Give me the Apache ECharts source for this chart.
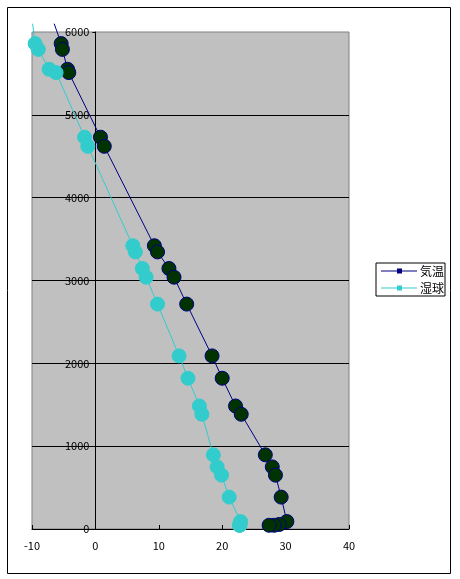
<!DOCTYPE html>
<html>
<head>
<meta charset="utf-8">
<script src="https://cdn.jsdelivr.net/npm/echarts@6/dist/echarts.min.js"></script>
<style>
  html, body { margin: 0; padding: 0; background: #fff; }
  #chart { width: 460px; height: 579px; }
</style>
</head>
<body>
<div id="chart"></div>
<script>
// 高度 (m) — 気温・湿球 共通
var heights = [6100, 5860, 5790, 5550, 5510, 4730, 4620, 3420, 3345, 3145, 3040, 2715,
  2090, 1820, 1485, 1385, 895, 750, 650, 385, 90, 55, 45, 45]
// 気温 (℃)
var airTemp = [-6.5, -5.4, -5.2, -4.4, -4.2, 0.8, 1.4, 9.3, 9.8, 11.6, 12.4, 14.4,
  18.4, 20.0, 22.1, 23.0, 26.8, 27.9, 28.4, 29.3, 30.2, 29.0, 28.2, 27.4]
// 湿球 (℃)
var wetBulb = [-9.9, -9.5, -9.0, -7.3, -6.2, -1.7, -1.2, 5.9, 6.3, 7.4, 8.0, 9.8,
  13.2, 14.6, 16.4, 16.8, 18.6, 19.2, 19.9, 21.1, 22.9, 22.8, 22.8, 22.7]
var seriesNames = ['気温', '湿球']
var xTicks = [-10, 0, 10, 20, 30, 40]
var yTicks = [0, 1000, 2000, 3000, 4000, 5000, 6000]

var xMin = xTicks[0], xMax = xTicks[xTicks.length - 1]
var yMin = yTicks[0], yMax = yTicks[yTicks.length - 1]

// プロットエリア (px)
var gridLeft = 32, gridTop = 32, gridRight = 111, gridBottom = 50
var plotW = 460 - gridLeft - gridRight
// 縦軸は x=0 の位置に置く
var yAxisShift = (0 - xMin) / (xMax - xMin) * plotW

// 枠外の点はマーカーを出さずに線だけ伸ばす
function makeData(temps) {
  return heights.map(function (h, i) {
    if (h > yMax) return { value: [temps[i], h], symbol: 'none' }
    return [temps[i], h]
  })
}

var labelFont = { color: '#000', fontSize: 11, fontFamily: 'Noto Sans CJK JP' }
var chart = echarts.init(document.getElementById('chart'))

var option = {
  animation: false,
  backgroundColor: '#fff',
  graphic: [{
    type: 'rect',
    shape: { x: 7.5, y: 7.5, width: 443, height: 566 },
    style: { fill: 'none', stroke: '#000', lineWidth: 1 },
    z: 0
  }],
  grid: {
    left: gridLeft,
    top: gridTop,
    right: gridRight,
    bottom: gridBottom,
    containLabel: false,
    outerBoundsMode: 'none',
    show: true,
    backgroundColor: '#C0C0C0',
    borderColor: '#808080',
    borderWidth: 1
  },
  legend: {
    orient: 'vertical',
    left: 376,
    top: 263,
    padding: [2, 1, 2, 5],
    itemGap: 5,
    itemWidth: 36,
    itemHeight: 5,
    borderColor: '#000',
    borderWidth: 1,
    icon: 'path://M0,2L36,2L36,3L0,3Z M16,0L21,0L21,5L16,5Z',
    itemStyle: { borderWidth: 0 },
    textStyle: { color: '#000', fontSize: 12, fontFamily: 'Noto Sans CJK JP', padding: [0, 0, 0, -2] },
    data: [
      { name: seriesNames[0], itemStyle: { color: '#000080', borderWidth: 0 } },
      { name: seriesNames[1], itemStyle: { color: '#33CCCC', borderWidth: 0 } }
    ]
  },
  xAxis: {
    type: 'value',
    min: xMin,
    max: xMax,
    interval: 10,
    axisLine: { onZero: false, lineStyle: { color: '#000', width: 1 } },
    axisTick: { inside: true, length: 4, lineStyle: { color: '#000' } },
    axisLabel: Object.assign({ margin: 11 }, labelFont),
    splitLine: { show: false }
  },
  yAxis: {
    type: 'value',
    min: yMin,
    max: yMax,
    interval: 1000,
    offset: -yAxisShift,
    axisLine: { show: true, onZero: false, lineStyle: { color: '#000', width: 1 } },
    axisTick: { show: true, length: 3, lineStyle: { color: '#000' } },
    axisLabel: Object.assign({
      margin: 6,
      showMinLabel: true,
      showMaxLabel: true,
      formatter: function (v) { return String(v) }
    }, labelFont),
    splitLine: { show: true, showMinLine: false, showMaxLine: false, lineStyle: { color: '#000', width: 1 } }
  },
  series: [
    {
      name: seriesNames[0],
      type: 'line',
      clip: false,
      symbol: 'circle',
      symbolSize: 14,
      itemStyle: { color: '#003300', borderColor: '#000080', borderWidth: 1 },
      lineStyle: { color: '#000080', width: 1 },
      data: makeData(airTemp)
    },
    {
      name: seriesNames[1],
      type: 'line',
      clip: false,
      symbol: 'circle',
      symbolSize: 14,
      itemStyle: { color: '#33CCCC', borderColor: '#33CCCC', borderWidth: 1 },
      lineStyle: { color: '#33CCCC', width: 1 },
      data: makeData(wetBulb)
    }
  ]
}

chart.setOption(option)
</script>
</body>
</html>
